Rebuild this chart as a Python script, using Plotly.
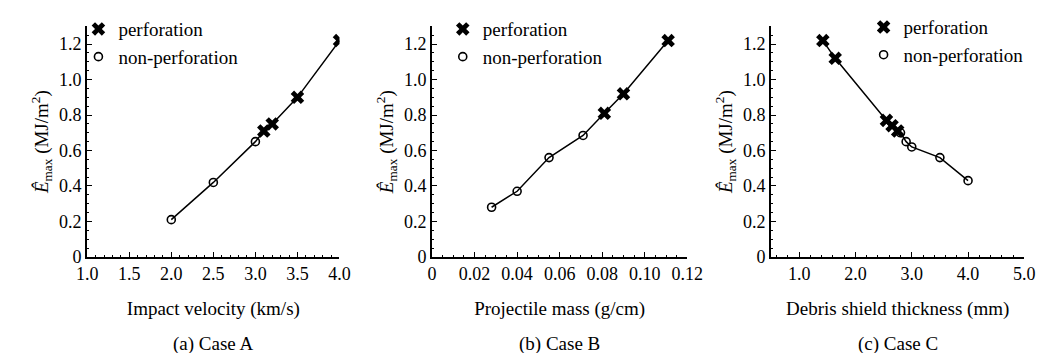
import plotly.graph_objects as go

# ---- data ----
# Case A: impact velocity (km/s) vs E_max (MJ/m^2)
a_perf_x = [3.1, 3.2, 3.5, 4.0]
a_perf_y = [0.71, 0.75, 0.90, 1.22]
a_non_x = [2.0, 2.5, 3.0]
a_non_y = [0.21, 0.42, 0.65]

# Case B: projectile mass (g/cm)
b_perf_x = [0.081, 0.090, 0.111]
b_perf_y = [0.81, 0.92, 1.22]
b_non_x = [0.028, 0.040, 0.055, 0.071]
b_non_y = [0.28, 0.37, 0.56, 0.685]

# Case C: debris shield thickness (mm)
c_perf_x = [1.42, 1.64, 2.55, 2.65, 2.75]
c_perf_y = [1.22, 1.12, 0.77, 0.74, 0.71]
c_non_x = [2.8, 2.9, 3.0, 3.5, 4.0]
c_non_y = [0.70, 0.65, 0.62, 0.56, 0.43]

y_ticks = [0, 0.2, 0.4, 0.6, 0.8, 1.0, 1.2]
y_ticktext = ["0", "0.2", "0.4", "0.6", "0.8", "1.0", "1.2"]
a_ticks = [1.0, 1.5, 2.0, 2.5, 3.0, 3.5, 4.0]
a_ticktext = ["1.0", "1.5", "2.0", "2.5", "3.0", "3.5", "4.0"]
b_ticks = [0, 0.02, 0.04, 0.06, 0.08, 0.10, 0.12]
b_ticktext = ["0", "0.02", "0.04", "0.06", "0.08", "0.10", "0.12"]
c_ticks = [1.0, 2.0, 3.0, 4.0, 5.0]
c_ticktext = ["1.0", "2.0", "3.0", "4.0", "5.0"]

x_titles = ["Impact velocity (km/s)", "Projectile mass (g/cm)", "Debris shield thickness (mm)"]
captions = ["(a) Case A", "(b) Case B", "(c) Case C"]
y_title = "<i>Ê</i><sub>max</sub> (MJ/m<sup>2</sup>)"

W, H = 1045, 353
FONT = "Liberation Serif, Times New Roman, serif"

panels = [
    dict(px=(70, 329), rng=[1.0, 4.0], tv=a_ticks, tt=a_ticktext, minor=0.1,
         perf=(a_perf_x, a_perf_y), non=(a_non_x, a_non_y), leg=(61, -2)),
    dict(px=(424, 686), rng=[0, 0.12], tv=b_ticks, tt=b_ticktext, minor=0.005,
         perf=(b_perf_x, b_perf_y), non=(b_non_x, b_non_y), leg=(435, -2)),
    dict(px=(772, 1032), rng=[0.5, 5.0], tv=c_ticks, tt=c_ticktext, minor=0.2,
         perf=(c_perf_x, c_perf_y), non=(c_non_x, c_non_y), leg=(867, -4)),
]

fig = go.Figure()
y_dom = [1 - 255 / H, 1 - 15 / H]

for i, p in enumerate(panels):
    n = "" if i == 0 else str(i + 1)
    xa, ya = "x" + n, "y" + n
    leg = "legend" + n
    # connecting line through all points sorted by x
    pts = sorted(zip(list(p["perf"][0]) + list(p["non"][0]),
                     list(p["perf"][1]) + list(p["non"][1])))
    fig.add_trace(go.Scatter(x=[q[0] for q in pts], y=[q[1] for q in pts],
                             mode="lines", line=dict(color="black", width=1.5),
                             showlegend=False, xaxis=xa, yaxis=ya, hoverinfo="skip"))
    fig.add_trace(go.Scatter(x=p["perf"][0], y=p["perf"][1], mode="markers",
                             name="perforation",
                             marker=dict(symbol="x", size=12, color="black",
                                         line=dict(width=0)),
                             xaxis=xa, yaxis=ya, legend=leg))
    fig.add_trace(go.Scatter(x=p["non"][0], y=p["non"][1], mode="markers",
                             name="non-perforation",
                             marker=dict(symbol="circle-open", size=8, color="black",
                                         line=dict(width=1.6)),
                             xaxis=xa, yaxis=ya, legend=leg))

    x0, x1 = p["px"]
    fig.update_layout({
        "xaxis" + n: dict(domain=[x0 / W, x1 / W], range=p["rng"], anchor=ya,
                          tickvals=p["tv"], ticktext=p["tt"], ticks="inside",
                          ticklen=5, tickwidth=1.2, tickcolor="black",
                          showline=True, linecolor="black", linewidth=2,
                          showgrid=False, zeroline=False,
                          minor=dict(ticks="inside", ticklen=2, dtick=p["minor"],
                                     tickcolor="black", tickwidth=1, showgrid=False),
                          tickfont=dict(family=FONT, size=18, color="black"),
                          title=dict(text=x_titles[i], standoff=18,
                                     font=dict(family=FONT, size=19, color="black"))),
        "yaxis" + n: dict(domain=y_dom, range=[0, 1.3], anchor=xa,
                          tickvals=y_ticks, ticktext=y_ticktext, ticks="inside",
                          ticklen=5, tickwidth=1.2, tickcolor="black",
                          showline=True, linecolor="black", linewidth=2,
                          showgrid=False, zeroline=False,
                          minor=dict(ticks="inside", ticklen=2, dtick=0.05,
                                     tickcolor="black", tickwidth=1, showgrid=False),
                          tickfont=dict(family=FONT, size=18, color="black"),
                          title=dict(text=y_title, standoff=5,
                                     font=dict(family=FONT, size=19, color="black"))),
        leg: dict(x=p["leg"][0] / W, y=1 - p["leg"][1] / H, xanchor="left",
                  yanchor="top", bgcolor="rgba(0,0,0,0)", borderwidth=0,
                  font=dict(family=FONT, size=19, color="black"),
                  itemwidth=30, tracegroupgap=0),
    })
    fig.add_annotation(text=captions[i], x=(x0 + x1) / 2 / W, y=1 - 346 / H,
                       xref="paper", yref="paper", showarrow=False,
                       xanchor="center", yanchor="middle",
                       font=dict(family=FONT, size=19, color="black"))

fig.update_layout(width=W, height=H, margin=dict(l=0, r=0, t=0, b=0),
                  paper_bgcolor="white", plot_bgcolor="white",
                  font=dict(family=FONT, color="black"))

fig.write_html("out.html")
